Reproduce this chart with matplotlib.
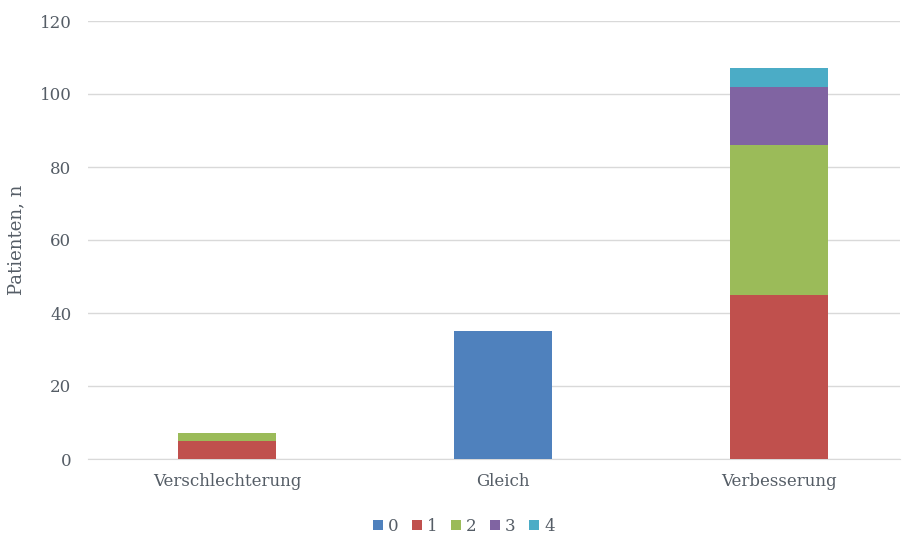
import numpy as np
import matplotlib.pyplot as plt

categories = ['Verschlechterung', 'Gleich', 'Verbesserung']
series_names = ['0', '1', '2', '3', '4']
s0 = [0, 35, 0]
s1 = [5, 0, 45]
s2 = [2, 0, 41]
s3 = [0, 0, 16]
s4 = [0, 0, 5]
yticks = [0, 20, 40, 60, 80, 100, 120]

colors = ['#4F81BD', '#C0504D', '#9BBB59', '#8064A2', '#4BACC6']
txt = '#555d66'

plt.rcParams['font.family'] = ['DejaVu Serif']

fig = plt.figure(figsize=(9.04, 5.36), dpi=100)
ax = fig.add_axes([88/904, 1-459/536, 812/904, 438/536])

x = np.arange(len(categories))
bottom = np.zeros(len(categories))
for name, vals, c in zip(series_names, [s0, s1, s2, s3, s4], colors):
    ax.bar(x, vals, 0.355, bottom=bottom, color=c, label=name, zorder=3)
    bottom += np.array(vals)

ax.set_xlim(-0.504, 2.438)
ax.set_ylim(0, 120)
ax.set_yticks(yticks)
ax.set_xticks(x)
ax.set_xticklabels(categories)
ax.yaxis.grid(True, color='#D9D9D9', linewidth=1, zorder=0)
for s in ['top', 'right', 'left']:
    ax.spines[s].set_visible(False)
ax.spines['bottom'].set_color('#D9D9D9')
ax.tick_params(axis='both', length=0, colors=txt, labelsize=12)
ax.tick_params(axis='x', pad=10)
ax.tick_params(axis='y', pad=12)
ax.set_ylabel('Patienten, n', color=txt, fontsize=13, labelpad=10)

ax.legend(loc='upper center', bbox_to_anchor=(0.463, -0.1), ncol=5, frameon=False,
          handlelength=0.6, handleheight=0.6, handletextpad=0.3, columnspacing=0.8,
          fontsize=12, labelcolor=txt)

fig.savefig('out.png', dpi=100)
